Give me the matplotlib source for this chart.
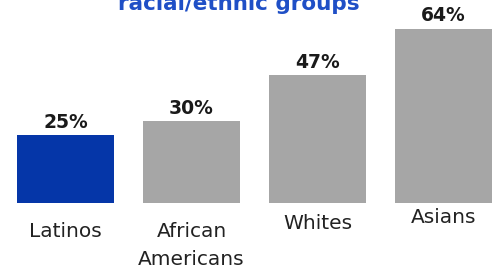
import matplotlib
matplotlib.use("Agg")
import matplotlib.pyplot as plt

# data
groups = ["Latinos", "African\nAmericans", "Whites", "Asians"]
values = [25, 30, 47, 64]
value_labels = ["25%", "30%", "47%", "64%"]
title_line = "racial/ethnic groups"

blue = "#0536a8"
gray = "#a6a6a6"
colors = [blue, gray, gray, gray]

plt.rcParams['font.family'] = ['DejaVu Sans']

fig = plt.figure(figsize=(4.99, 2.70), dpi=100)
ax = fig.add_axes([0, 0, 1, 1])
x = range(len(values))
bars = ax.bar(x, values, width=0.77, color=colors)

ax.set_xlim(-0.52, 3.44)
ax.set_ylim(-24.63, 74.63)
ax.axis("off")

# value labels on top of bars
for b, lab in zip(bars, value_labels):
    ax.annotate(lab, (b.get_x() + b.get_width() / 2, b.get_height()),
                xytext=(0, 2.5), textcoords="offset points",
                ha="center", va="bottom", fontsize=13.5, fontweight="bold",
                color="#1a1a1a")

# category labels (staggered as in the original)
label_y = [-10.3, -15.8, -7.7, -5.5]
for i, (g, yy) in enumerate(zip(groups, label_y)):
    ax.text(i, yy, g, ha="center", va="center", fontsize=14.5, color="#222222",
            linespacing=1.6)

fig.text(0.478, 1 - 10 / 270, title_line, ha="center", va="baseline",
         fontsize=15.5, fontweight="bold", color="#1f4fc6")

fig.savefig("out.png", dpi=100)
